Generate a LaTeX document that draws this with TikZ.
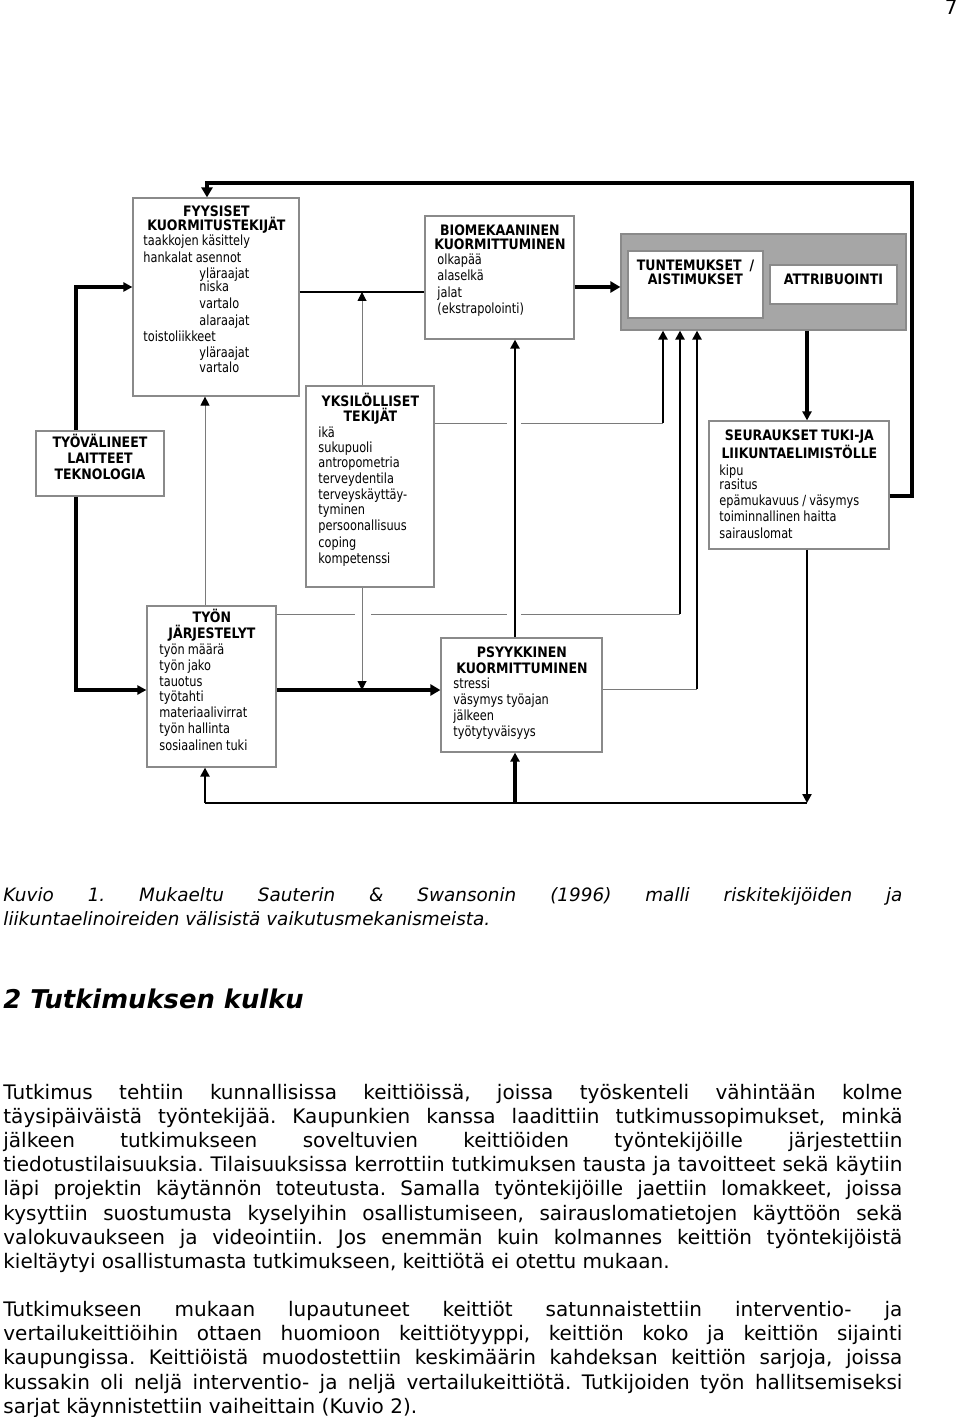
\documentclass[tikz,border=0pt]{standalone}
\usepackage{fontspec}
\setmainfont{DejaVu Sans}
\newfontfamily\dfont{DejaVu Sans}[FakeStretch=0.81]
\newfontfamily\dbfont{DejaVu Sans}[FakeStretch=0.87]
\usetikzlibrary{arrows.meta,fit,calc}
\setlength{\parindent}{0pt}
\setlength{\lineskiplimit}{-5pt}
\frenchspacing
\definecolor{boxline}{HTML}{8A8A8A}
\definecolor{thinline}{HTML}{7A7A7A}
\definecolor{grayfill}{HTML}{A6A6A6}
\newcommand{\boxtitle}{\centering\dbfont\bfseries\fontsize{7.2}{7}\selectfont\spaceskip=1.8pt\relax}
\newcommand{\boxitems}{\raggedright\dfont\fontsize{7}{8.25}\selectfont\spaceskip=1.6pt\relax}
\newcommand{\mystrut}{\rule{0pt}{7pt}}
\newcommand{\myind}{\hspace*{28pt}}
\newcommand{\jline}[1]{\makebox[449.5pt][s]{#1}}
\begin{document}
\begin{tikzpicture}[x=0.5pt,y=-0.5pt,
  bx/.style={draw=boxline, line width=0.6pt, fill=white, inner sep=0pt},
  graybx/.style={draw=boxline, line width=0.6pt, fill=grayfill, inner sep=0pt},
  txt/.style={inner sep=0pt, anchor=north west},
  ttx/.style={inner sep=0pt, anchor=north},
  lnthick/.style={line width=1.75pt, draw=black},
  lnmed/.style={line width=1.3pt, draw=black},
  lnthin/.style={line width=0.5pt, draw=thinline},
  tipbig/.style={-{Triangle[width=5.5pt,length=5pt,color=black,fill=black]}},
  tipsm/.style={-{Triangle[width=4.5pt,length=4.5pt,color=black,fill=black]}},
  bodyln/.style={anchor=base west, inner sep=0pt, font=\fontsize{10}{12}\selectfont},
  capln/.style={anchor=base west, inner sep=0pt, font=\itshape\fontsize{9.2}{11}\selectfont}
]
\useasboundingbox (0,0) rectangle (960,1417);
\fill[white] (0,0) rectangle (960,1417);

% ---------- boxes ----------
\node[bx, fit={(133,198) (299,396)}] (fyys) {};
\node[bx, fit={(425,216) (574,339)}] (biome) {};
\node[graybx, fit={(621,234) (906,330)}] (grp) {};
\node[bx, fit={(628,251) (763,318)}] (tunt) {};
\node[bx, fit={(770,265) (897,304)}] (attr) {};
\node[bx, fit={(36,431) (164,496)}] (tyov) {};
\node[bx, fit={(306,386) (434,587)}] (yks) {};
\node[bx, fit={(709,421) (889,549)}] (seur) {};
\node[bx, fit={(147,606) (276,767)}] (tyon) {};
\node[bx, fit={(441,638) (602,752)}] (psyk) {};

% ---------- box texts ----------
\node[txt, text width=73pt] (fyyst) at (143,202) {%
{\boxtitle\mystrut FYYSISET\\KUORMITUSTEKIJÄT\par}\vspace{-0.75pt}%
{\boxitems taakkojen käsittely\\[0.25pt] hankalat asennot\\ \myind yläraajat\\[-1.75pt] \myind niska\\[0.25pt] \myind vartalo\\ \myind alaraajat\\[-0.25pt] toistoliikkeet\\[-0.25pt] \myind yläraajat\\[-0.75pt] \myind vartalo\par}};

\node[txt, text width=68.5pt] (biomet) at (431,221) {%
{\boxtitle\mystrut BIOMEKAANINEN\\KUORMITTUMINEN\par}\vspace{-0.75pt}%
{\boxitems \hspace*{3pt}olkapää\\ \hspace*{3pt}alaselkä\\ \hspace*{3pt}jalat\\ \hspace*{3pt}(ekstrapolointi)\par}};

\node[ttx, text width=66pt] (tuntt) at (695.5,256) {{\boxtitle\mystrut\mbox{TUNTEMUKSET\hspace{4pt}/}\\AISTIMUKSET\par}};
\node[ttx, text width=60pt] (attrt) at (833.5,270) {{\boxtitle\mystrut ATTRIBUOINTI\par}};

\node[ttx, text width=58pt] (tyovt) at (100,433) {{\boxtitle\fontsize{7.2}{8}\selectfont\mystrut TYÖVÄLINEET\\LAITTEET\\TEKNOLOGIA\par}};

\node[txt, text width=52pt] (ykst) at (318,392) {%
{\boxtitle\fontsize{7.2}{7.5}\selectfont\mystrut YKSILÖLLISET\\TEKIJÄT\par}%
{\boxitems\fontsize{7}{8}\selectfont\spaceskip=1.6pt\relax ikä\\[-0.5pt] sukupuoli\\[-0.5pt] antropometria\\ terveydentila\\ terveyskäyttäy-\\[-0.5pt] tyminen\\[0.25pt] persoonallisuus\\[0.25pt] coping\\[0.25pt] kompetenssi\par}};

\node[txt, text width=80pt] (seurt) at (719,426) {%
{\boxtitle\fontsize{7.2}{8}\selectfont\spaceskip=1.8pt\relax\mystrut SEURAUKSET TUKI-JA\\LIIKUNTAELIMISTÖLLE\par}%
{\boxitems kipu\\[-1.25pt] rasitus\\[-0.25pt] epämukavuus / väsymys\\ toiminnallinen haitta\\ sairauslomat\par}};

\node[txt, text width=52.5pt] (tyont) at (159,608) {%
{\boxtitle\fontsize{7.2}{8}\selectfont\mystrut TYÖN\\JÄRJESTELYT\par}%
{\boxitems\fontsize{7}{8}\selectfont\spaceskip=1.6pt\relax työn määrä\\ työn jako\\ tauotus\\[-0.5pt] työtahti\\ materiaalivirrat\\ työn hallinta\\[0.5pt] sosiaalinen tuki\par}};

\node[txt, text width=68.5pt] (psykt) at (453,643) {%
{\boxtitle\fontsize{7.2}{8}\selectfont\mystrut PSYYKKINEN\\KUORMITTUMINEN\par}\vspace{-0.5pt}%
{\boxitems\fontsize{7}{8}\selectfont\spaceskip=1.6pt\relax stressi\\ väsymys työajan\\ jälkeen\\ työtytyväisyys\par}};

% ---------- connector coordinates ----------
\coordinate (topL) at (207,183);
\coordinate (topR) at (912,183);
\coordinate (loopR) at (912,496);
\coordinate (leftT) at (76,287);
\coordinate (leftB) at (76,690);
\coordinate (yU) at (362,292);
\coordinate (yD) at (362,690);
\coordinate (tyU) at (205,500);
\coordinate (h1) at (663,423);
\coordinate (h2) at (680,614);
\coordinate (h3) at (697,689);
\coordinate (g1a) at (507,423);
\coordinate (g1b) at (521,423);
\coordinate (g2a) at (355,614);
\coordinate (g2b) at (371,614);
\coordinate (g2c) at (507,614);
\coordinate (g2d) at (521,614);
\coordinate (bL) at (205,803);
\coordinate (bM) at (515,803);
\coordinate (bR) at (807,803);

% ---------- connectors ----------
\draw[lnthick, tipbig] (seur.east |- loopR) -- (loopR) -- (topR) -- (topL) -- (topL |- fyys.north);
\draw[lnthick, tipsm] (tyov.north -| leftT) -- (leftT) -- (leftT -| fyys.west);
\draw[lnthick, tipsm] (tyov.south -| leftB) -- (leftB) -- (leftB -| tyon.west);
\draw[lnmed] (fyys.east |- yU) -- (biome.west |- yU);
\draw[lnthin, tipsm] (yks.north -| yU) -- (yU);
\draw[lnthin, tipsm] (yks.south -| yD) -- (yD);
\draw[lnthick, tipbig] (tyon.east |- leftB) -- (psyk.west |- leftB);
\draw[lnthin, tipsm] (tyon.north -| tyU) -- (tyU |- fyys.south);
\draw[lnthick, tipbig] (biome.east |- leftT) -- (grp.west |- leftT);
\draw[lnmed, tipsm] (psyk.north -| bM) -- (bM |- biome.south);
\draw[lnthin] (yks.east |- h1) -- (g1a);
\draw[lnthin] (g1b) -- (h1);
\draw[lnmed, tipsm] (h1) -- (h1 |- grp.south);
\draw[lnthin] (tyon.east |- h2) -- (g2a);
\draw[lnthin] (g2b) -- (g2c);
\draw[lnthin] (g2d) -- (h2);
\draw[lnmed, tipsm] (h2) -- (h2 |- grp.south);
\draw[lnthin] (psyk.east |- h3) -- (h3);
\draw[lnmed, tipsm] (h3) -- (h3 |- grp.south);
\draw[lnthick, tipsm] (grp.south -| bR) -- (bR |- seur.north);
\draw[lnmed, tipsm] (seur.south -| bR) -- (bR);
\draw[lnmed] (bL) -- (bR);
\draw[lnmed, tipsm] (bL) -- (bL |- tyon.south);
\draw[lnthick, tipsm] (bM) -- (bM |- psyk.south);

% ---------- page text ----------
\node[anchor=base east, inner sep=0pt, font=\fontsize{10}{12}\selectfont] (pg) at (958,15) {7};

\node[capln] (c1) at (3,901.5) {\jline{Kuvio 1. Mukaeltu Sauterin \& Swansonin (1996) malli riskitekijöiden ja}};
\node[capln] (c2) at (3,925) {liikuntaelinoireiden välisistä vaikutusmekanismeista.};

\node[anchor=base west, inner sep=0pt, font=\bfseries\itshape\fontsize{12.9}{15}\selectfont] (hd) at (3,1008) {2 Tutkimuksen kulku};

\node[bodyln] (a1) at (3,1099.5) {\jline{Tutkimus tehtiin kunnallisissa keittiöissä, joissa työskenteli vähintään kolme}};
\node[bodyln] (a2) at (3,1123.6) {\jline{täysipäiväistä työntekijää. Kaupunkien kanssa laadittiin tutkimussopimukset, minkä}};
\node[bodyln] (a3) at (3,1147.7) {\jline{jälkeen tutkimukseen soveltuvien keittiöiden työntekijöille järjestettiin}};
\node[bodyln] (a4) at (3,1171.8) {\jline{tiedotustilaisuuksia. Tilaisuuksissa kerrottiin tutkimuksen tausta ja tavoitteet sekä käytiin}};
\node[bodyln] (a5) at (3,1195.9) {\jline{läpi projektin käytännön toteutusta. Samalla työntekijöille jaettiin lomakkeet, joissa}};
\node[bodyln] (a6) at (3,1220) {\jline{kysyttiin suostumusta kyselyihin osallistumiseen, sairauslomatietojen käyttöön sekä}};
\node[bodyln] (a7) at (3,1244.1) {\jline{valokuvaukseen ja videointiin. Jos enemmän kuin kolmannes keittiön työntekijöistä}};
\node[bodyln] (a8) at (3,1268.2) {kieltäytyi osallistumasta tutkimukseen, keittiötä ei otettu mukaan.};

\node[bodyln] (b1) at (3,1316.7) {\jline{Tutkimukseen mukaan lupautuneet keittiöt satunnaistettiin interventio- ja}};
\node[bodyln] (b2) at (3,1340.8) {\jline{vertailukeittiöihin ottaen huomioon keittiötyyppi, keittiön koko ja keittiön sijainti}};
\node[bodyln] (b3) at (3,1364.9) {\jline{kaupungissa. Keittiöistä muodostettiin keskimäärin kahdeksan keittiön sarjoja, joissa}};
\node[bodyln] (b4) at (3,1389) {\jline{kussakin oli neljä interventio- ja neljä vertailukeittiötä. Tutkijoiden työn hallitsemiseksi}};
\node[bodyln] (b5) at (3,1413.1) {sarjat käynnistettiin vaiheittain (Kuvio 2).};
\end{tikzpicture}
\end{document}
